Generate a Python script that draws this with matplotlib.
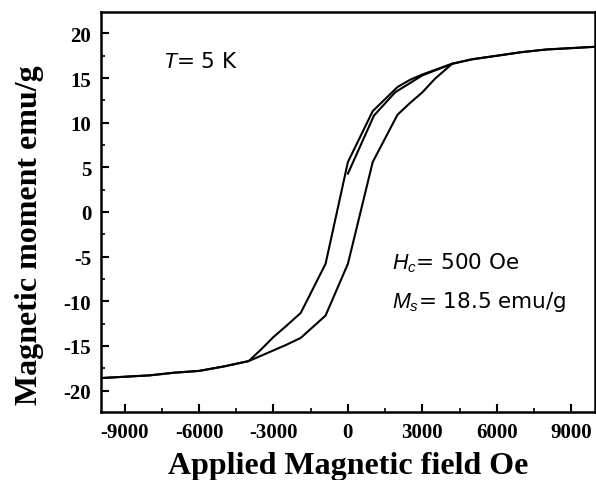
import matplotlib
matplotlib.use("Agg")
import matplotlib.pyplot as plt
from matplotlib.ticker import MultipleLocator

# M-H loop at 5 K
desc_h = [9950, 8000, 7000, 6000, 5000, 4200, 3500, 3000, 2500, 2000, 1000, 0,
          -900, -1900, -2500, -3000, -3500, -4000, -5000, -6000, -7000, -8000, -9950]
desc_m = [18.5, 18.2, 17.9, 17.5, 17.1, 16.6, 15.9, 15.4, 14.8, 14.0, 11.3, 5.6,
          -5.8, -11.3, -12.8, -14.0, -15.4, -16.7, -17.3, -17.8, -18.0, -18.3, -18.6]

asc_h = [-9950, -8000, -7000, -6000, -5000, -4000, -3500, -3000, -2500, -1900, -900, 0,
         1000, 2000, 2500, 3000, 3500, 4200, 5000, 6000, 7000, 8000, 9950]
asc_m = [-18.6, -18.3, -18.0, -17.8, -17.3, -16.7, -16.1, -15.5, -14.9, -14.1, -11.6, -5.8,
         5.6, 10.9, 12.2, 13.4, 14.9, 16.6, 17.1, 17.5, 17.9, 18.2, 18.5]

init_h = [0, 1050, 1900, 3000, 4200]
init_m = [4.3, 10.8, 13.4, 15.3, 16.6]

x_ticks = [-9000, -6000, -3000, 0, 3000, 6000, 9000]
y_ticks = [-20, -15, -10, -5, 0, 5, 10, 15, 20]

plt.rcParams["axes.unicode_minus"] = False
plt.rcParams["mathtext.fontset"] = "custom"
plt.rcParams["mathtext.rm"] = "Liberation Sans"
plt.rcParams["mathtext.it"] = "Liberation Sans:italic"

fig = plt.figure(figsize=(5.96, 4.81), dpi=100)
ax = fig.add_axes([0.1695, 0.1414, 0.8285, 0.8316])

ax.plot(desc_h, desc_m, color="black", lw=1.5)
ax.plot(asc_h, asc_m, color="black", lw=1.5)
ax.plot(init_h, init_m, color="black", lw=1.5)

ax.set_xlim(-9950, 9950)
ax.set_ylim(-22.4, 22.4)
ax.set_xticks(x_ticks)
ax.set_yticks(y_ticks)
ax.xaxis.set_minor_locator(MultipleLocator(1500))
ax.yaxis.set_minor_locator(MultipleLocator(2.5))
ax.tick_params(which="major", direction="in", length=6, width=1.5, pad=7)
ax.tick_params(which="minor", direction="in", length=3, width=1.2)
for lab in ax.get_xticklabels() + ax.get_yticklabels():
    lab.set_fontfamily("Liberation Serif")
    lab.set_fontweight("bold")
    lab.set_fontsize(15)
for sp in ax.spines.values():
    sp.set_linewidth(1.8)

ax.set_xlabel("Applied Magnetic field Oe", fontfamily="Liberation Serif",
              fontweight="bold", fontsize=23, labelpad=7)
ax.set_ylabel("Magnetic moment emu/g", fontfamily="Liberation Serif",
              fontweight="bold", fontsize=23)
ax.yaxis.set_label_coords(-0.115, 0.445)

ax.text(-7470, 16.9, "$T$= 5 K", fontsize=15.5, va="center", ha="left")
ax.text(1770, -5.6, "$H_c$= 500 Oe", fontsize=15.5, va="center", ha="left")
ax.text(1770, -10.0, "$M_s$= 18.5 emu/g", fontsize=15.5, va="center", ha="left")

fig.savefig("out.png", dpi=100)
